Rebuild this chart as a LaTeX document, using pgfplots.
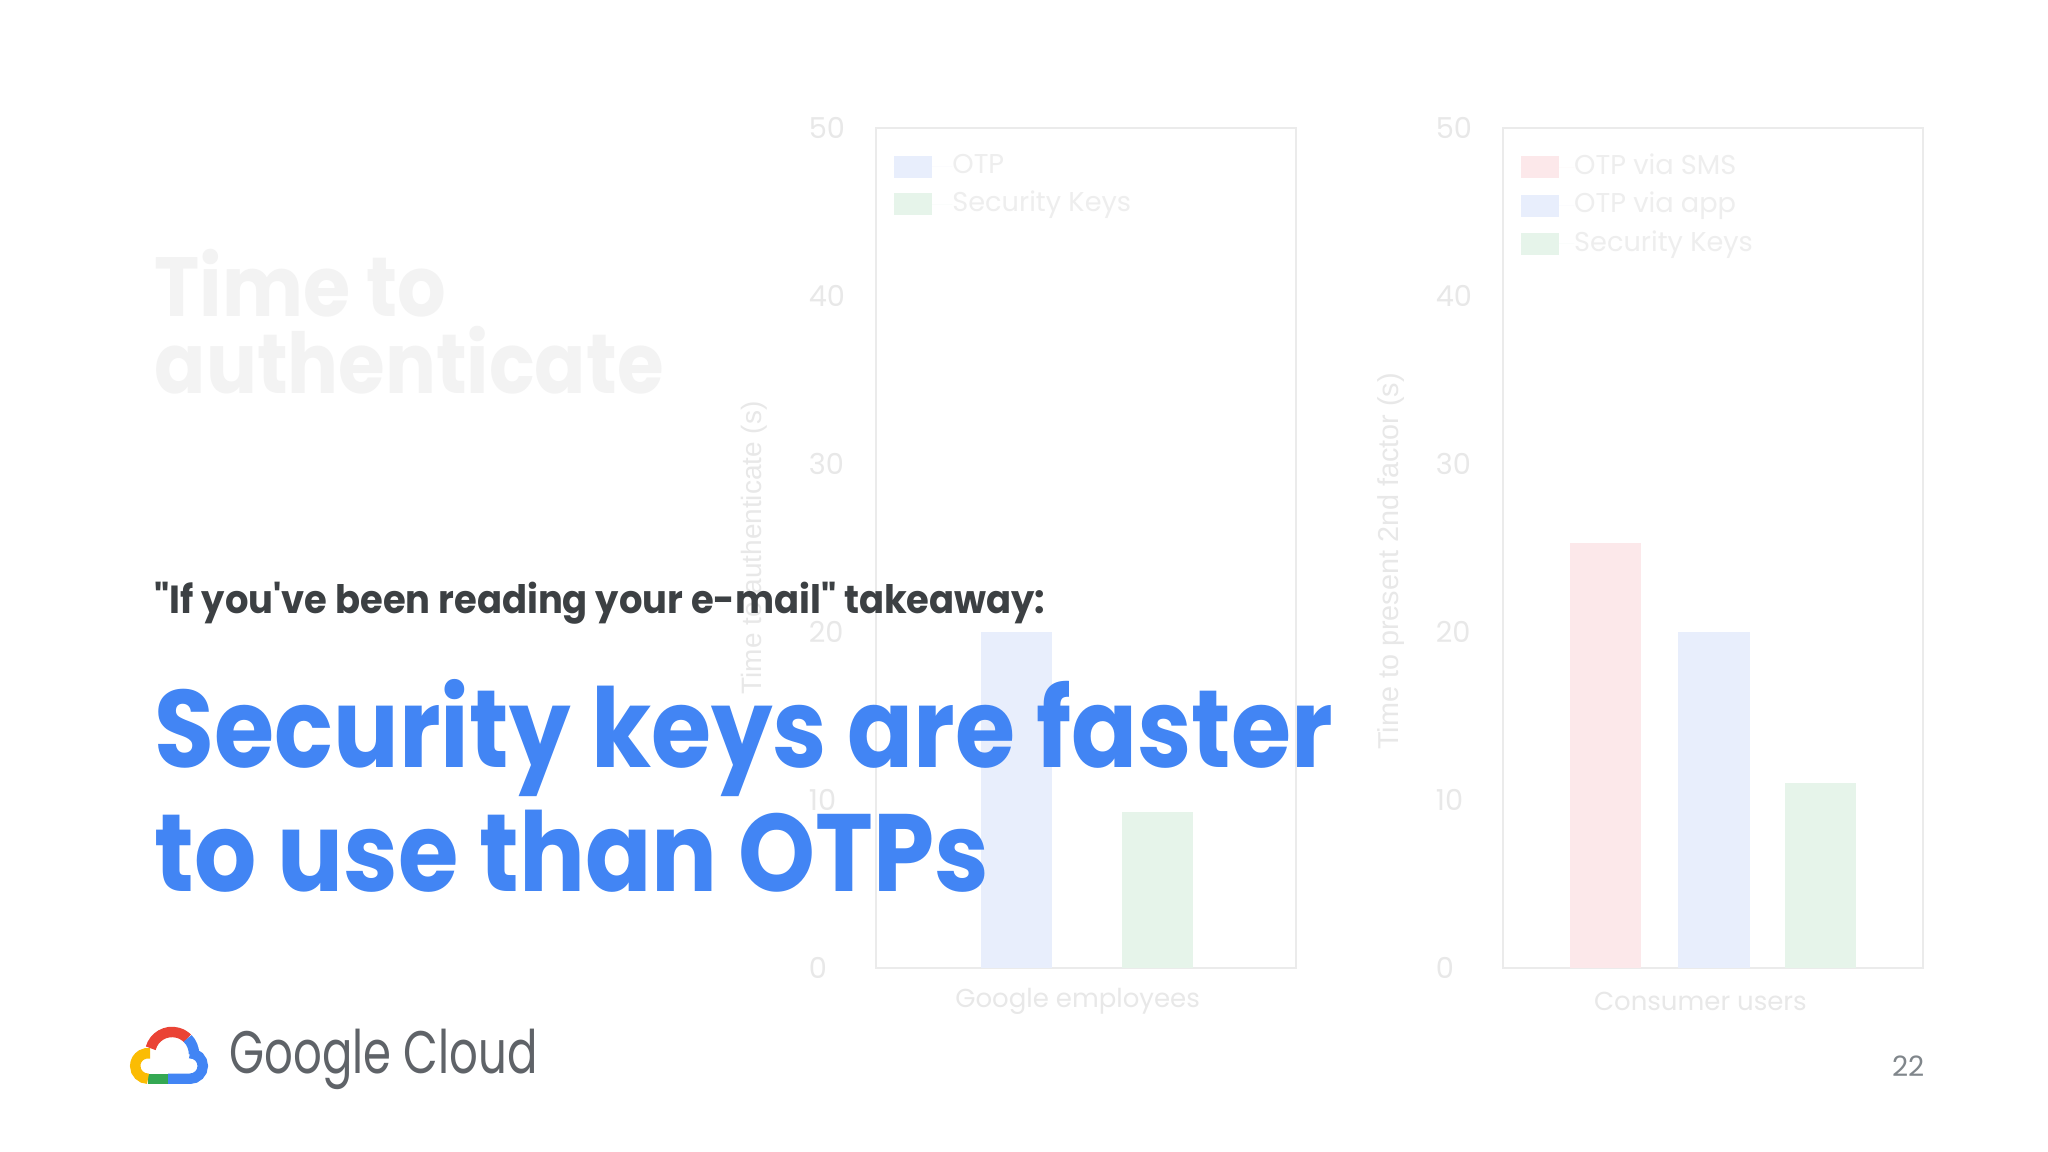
\documentclass[border=0pt]{standalone}
\usepackage{pgfplots}
\pgfplotsset{compat=1.18}
\usepackage{graphicx}
\usepackage{fontspec}
\setmainfont{Poppins}
\newfontfamily\popnt{Poppins}[Ligatures=TeXOff]
\newfontfamily\robo{Liberation Sans}
\definecolor{headblue}{HTML}{4285F4}
\definecolor{darktext}{HTML}{3C4043}
\definecolor{logotext}{HTML}{5F6368}
\definecolor{pagenum}{HTML}{80868B}
\definecolor{fainttitle}{HTML}{F3F3F3}
\definecolor{axisgray}{HTML}{EBEBEB}
\definecolor{ticklbl}{HTML}{E8E8E8}
\definecolor{legtxt}{HTML}{EEEEEE}
\definecolor{smsred}{HTML}{FCE8EA}
\definecolor{otpblue}{HTML}{E8EEFC}
\definecolor{skgreen}{HTML}{E6F4EA}
\definecolor{gred}{HTML}{EA4335}
\definecolor{gblue}{HTML}{4285F4}
\definecolor{ggreen}{HTML}{34A853}
\definecolor{gyellow}{HTML}{FBBC04}
\pgfplotsset{slide/.style={
  scale only axis, width=105pt, height=210pt,
  xmin=0, xmax=1, ymin=0, ymax=50,
  ytick={0,10,20,30,40,50}, xtick=\empty,
  major tick length=0pt, tick style={draw=none},
  axis line style={draw=axisgray, line width=0.6pt},
  /pgf/number format/assume math mode=true,
  yticklabel style={text=ticklbl, font=\fontsize{7.2}{8}\selectfont, inner sep=0pt, xshift=-17pt, anchor=west},
  every axis x label/.style={at={(axis description cs:0.48,-0.04)}, anchor=center, text=ticklbl, font=\fontsize{6.5}{8}\selectfont},
  legend style={at={(axis description cs:0.04,0.97)}, anchor=north west, draw=none, fill=none,
    row sep=2.9pt, inner sep=0pt,
    nodes={inner sep=0pt, text=legtxt, font=\fontsize{6.8}{7}\selectfont}},
  legend cell align=left,
}}
\begin{document}
\begin{tikzpicture}
\path[use as bounding box, fill=white] (0,0) rectangle (512pt,288pt);

% left chart
\begin{axis}[slide, at={(219pt,46pt)}, anchor=south west,
  xlabel={Google employees}, ylabel={Time to authenticate (s)},
  legend image code/.code={\fill[#1] (0pt,-2.75pt) rectangle (9.5pt,2.75pt); \path (0pt,0pt) -- (14.7pt,0pt);},
  every axis y label/.style={at={(axis description cs:-0.29,0.5)}, rotate=90, anchor=center, text=ticklbl, font=\robo\fontsize{7}{8}\selectfont}]
\addplot[ybar, bar width=0.17, bar shift=0pt, fill=otpblue, draw=none] coordinates {(0.335,20.0)};
\addlegendentry{OTP}
\addplot[ybar, bar width=0.17, bar shift=0pt, fill=skgreen, draw=none] coordinates {(0.670,9.3)};
\addlegendentry{Security Keys}
\end{axis}

% right chart
\begin{axis}[slide, at={(375.75pt,46pt)}, anchor=south west,
  xlabel={Consumer users}, ylabel={Time to present 2nd factor (s)},
  every axis x label/.style={at={(axis description cs:0.47,-0.04)}, anchor=center, text=ticklbl, font=\fontsize{6.5}{8}\selectfont},
  legend image code/.code={\fill[#1] (0pt,-2.75pt) rectangle (9.5pt,2.75pt); \path (0pt,0pt) -- (13.4pt,0pt);},
  every axis y label/.style={at={(axis description cs:-0.267,0.484)}, rotate=90, anchor=center, text=ticklbl, font=\robo\fontsize{7.2}{8}\selectfont}]
\addplot[ybar, bar width=0.17, bar shift=0pt, fill=smsred, draw=none] coordinates {(0.244,25.3)};
\addlegendentry{OTP via SMS}
\addplot[ybar, bar width=0.17, bar shift=0pt, fill=otpblue, draw=none] coordinates {(0.502,20.0)};
\addlegendentry{OTP via app}
\addplot[ybar, bar width=0.17, bar shift=0pt, fill=skgreen, draw=none] coordinates {(0.756,11.0)};
\addlegendentry{Security Keys}
\end{axis}

% faint title
\node[anchor=base west, inner sep=0pt, text=fainttitle, font=\bfseries\fontsize{21}{24}\selectfont] at (38.5pt,208.75pt) {\scalebox{0.91}[1]{Time to}};
\node[anchor=base west, inner sep=0pt, text=fainttitle, font=\bfseries\fontsize{21}{24}\selectfont] at (38.5pt,189.5pt) {\scalebox{0.90}[1]{authenticate}};

% takeaway
\node[anchor=base west, inner sep=0pt, text=darktext, font=\popnt\bfseries\fontsize{9.8}{12}\selectfont] at (38.5pt,134.5pt) {\scalebox{0.941}[1]{"If you've been reading your e-mail" takeaway:}};
\node[anchor=base west, inner sep=0pt, text=headblue, font=\bfseries\fontsize{27.5}{31}\selectfont] at (38.5pt,96pt) {\scalebox{0.885}[1]{Security keys are faster}};
\node[anchor=base west, inner sep=0pt, text=headblue, font=\bfseries\fontsize{27.5}{31}\selectfont] at (38.5pt,65pt) {\scalebox{0.89}[1]{to use than OTPs}};

% logo
\begin{scope}[line width=2.6pt]
\draw[gred] ([shift={(165:5.5pt)}]43pt,24.5pt) arc (165:45:5.5pt);
\draw[gblue] ([shift={(45:5.5pt)}]43pt,24.5pt) arc (45:0:5.5pt);
\draw[gblue] ([shift={(90:3.2pt)}]47.5pt,21.5pt) arc (90:-90:3.2pt) -- (42pt,18.3pt);
\draw[ggreen] (42pt,18.3pt) -- (37pt,18.3pt);
\draw[gyellow] ([shift={(-90:3.2pt)}]37pt,21.5pt) arc (270:80:3.2pt);
\end{scope}
\node[anchor=base west, inner sep=0pt, text=logotext, font=\fontsize{15}{18}\selectfont] at (57.25pt,19.5pt) {\scalebox{0.75}[1]{Google Cloud}};

% page number
\node[anchor=base east, inner sep=0pt, text=pagenum, font=\fontsize{7}{8}\selectfont] at (481.25pt,18.75pt) {22};
\end{tikzpicture}
\end{document}
